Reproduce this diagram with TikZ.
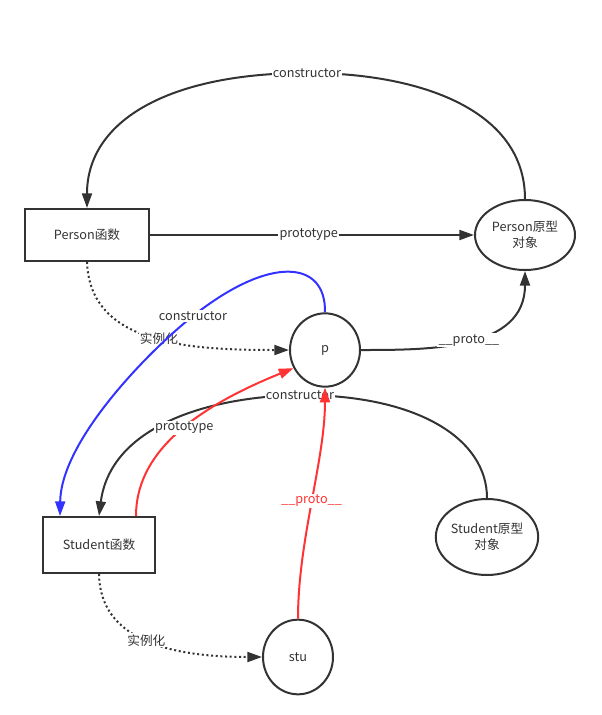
\documentclass[tikz,border=0pt]{standalone}
\usepackage{fontspec}
\setmainfont{Noto Sans CJK SC}
\usetikzlibrary{arrows.meta,shapes.geometric}
\definecolor{ink}{HTML}{333333}
\definecolor{linkred}{HTML}{FF3333}
\definecolor{linkblue}{HTML}{3333FF}

\begin{document}
\begin{tikzpicture}[x=0.75pt,y=-0.75pt,font=\fontsize{9.5pt}{12pt}\selectfont,
  fnbox/.style={draw=ink,line width=1.5pt,text=ink,minimum width=93pt,minimum height=39pt,inner sep=0pt},
  objnode/.style={draw=ink,line width=1.5pt,text=ink,ellipse,inner sep=0pt,align=center},
  link/.style={draw=ink,line width=1.5pt,-{Triangle[length=11pt,width=7.5pt]}},
  inst/.style={link,dash pattern=on 1.5pt off 2pt},
  lbl/.style={fill=white,text=ink,inner sep=1pt}]
\useasboundingbox (0,0) rectangle (601,715);
\node[fnbox] (PF) at (87,235) {Person函数};
\node[objnode,minimum width=75pt,minimum height=52.5pt] (PO) at (525,235) {Person原型\\对象};
\node[objnode,minimum width=52.5pt,minimum height=55pt] (p) at (325,350) {p};
\node[fnbox,minimum width=84pt,minimum height=42pt] (SF) at (99,545) {Student函数};
\node[objnode,minimum width=75pt,minimum height=57pt] (SO) at (487,537) {Student原型\\对象};
\node[objnode,minimum width=52.5pt,minimum height=56pt] (stu) at (298,657) {stu};
% Person
\draw[link] (PO.north) .. controls (525,110) and (420,73) .. (307,73) node[lbl] {constructor}
  .. controls (170,73) and (87,120) .. (PF.north);
\draw[link] (PF.east) -- (PO.west) node[lbl,pos=0.49] {prototype};
\draw[inst] (PF.south) .. controls (90,345) and (190,350) .. (p.west) node[lbl,pos=0.53] {实例化};
\draw[link] (p.east) .. controls (430,350) and (525,350) .. (PO.south) node[lbl,pos=0.5] {\_\_proto\_\_};
\draw[link,draw=linkblue] (p.north) .. controls (326,260) and (270,255) .. (193,316) node[lbl] {constructor}
  .. controls (150,350) and (61,440) .. ([xshift=13.5pt]SF.north west);
% Student
\draw[link] (SO.north) .. controls (487,440) and (420,395) .. (300,395) node[lbl] {constructor}
  .. controls (200,397) and (110,430) .. (SF.north);
\draw[link,draw=linkred] ([xshift=27.75pt]SF.north) .. controls (136,455) and (190,410) .. (p.210)
  node[lbl,pos=0.55] {prototype};
\draw[link,draw=linkred] (stu.north) .. controls (298,540) and (325,460) .. (p.south)
  node[lbl,text=linkred,pos=0.5] {\_\_proto\_\_};
\draw[inst] (SF.south) .. controls (100,640) and (170,657) .. (stu.west) node[lbl,pos=0.5] {实例化};
\end{tikzpicture}
\end{document}
